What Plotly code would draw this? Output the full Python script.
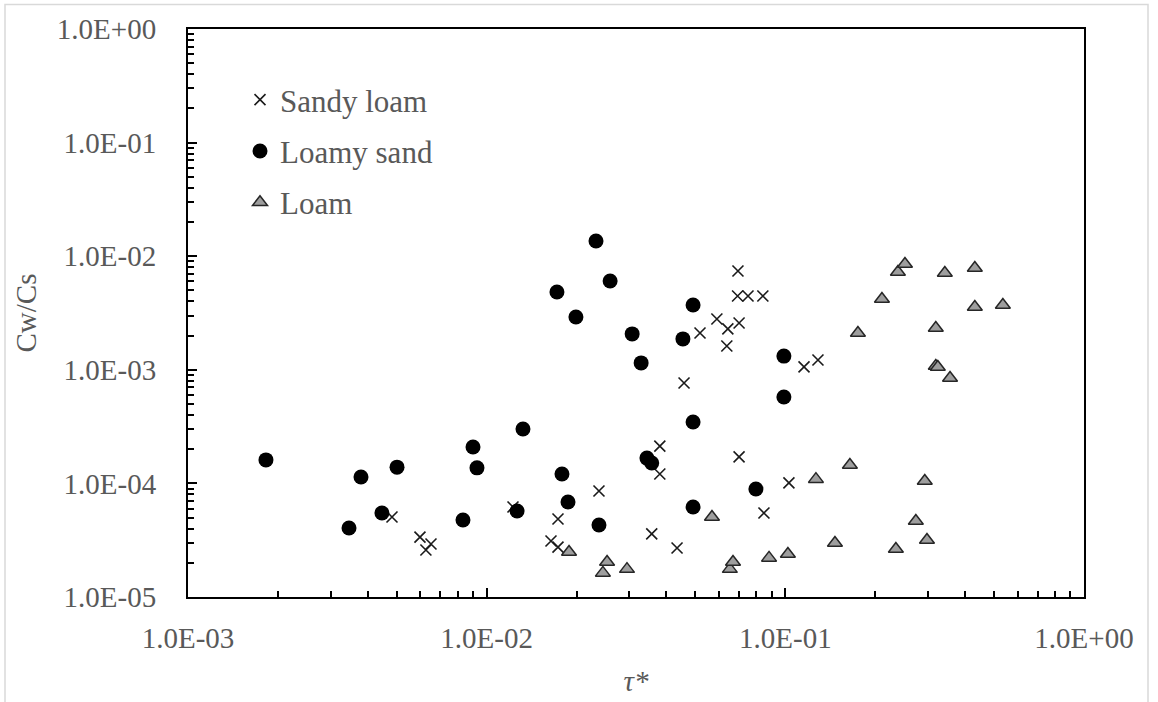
import plotly.graph_objects as go

# ---- data ----
sandy_x = [0.00482, 0.00598, 0.00626, 0.00651, 0.01225, 0.01642, 0.01733, 0.01733,
           0.02377, 0.0357, 0.038, 0.038, 0.0434, 0.0458, 0.0518, 0.059, 0.0637,
           0.0642, 0.0692, 0.0694, 0.070, 0.070, 0.075, 0.0841, 0.0848, 0.1028,
           0.1155, 0.1286]
sandy_y = [5.06e-5, 3.37e-5, 2.59e-5, 2.93e-5, 6.2e-5, 3.11e-5, 4.86e-5, 2.75e-5,
           8.57e-5, 3.59e-5, 2.13e-4, 1.21e-4, 2.7e-5, 7.65e-4, 2.11e-3, 2.8e-3,
           1.62e-3, 2.29e-3, 4.46e-3, 7.41e-3, 2.58e-3, 1.71e-4, 4.46e-3, 4.46e-3,
           5.49e-5, 1.01e-4, 1.06e-3, 1.22e-3]

loamy_x = [0.001824, 0.00346, 0.003795, 0.00446, 0.00501, 0.00833, 0.009, 0.00928,
           0.01264, 0.01323, 0.01719, 0.01787, 0.01872, 0.0199, 0.02323, 0.02377,
           0.0259, 0.0307, 0.0329, 0.0344, 0.0357, 0.0454, 0.0491, 0.0491, 0.0491,
           0.0797, 0.0989, 0.0989]
loamy_y = [1.61e-4, 4.05e-5, 1.14e-4, 5.49e-5, 1.39e-4, 4.76e-5, 2.09e-4, 1.37e-4,
           5.71e-5, 3.01e-4, 4.84e-3, 1.21e-4, 6.86e-5, 2.92e-3, 1.36e-2, 4.3e-5,
           6.05e-3, 2.07e-3, 1.15e-3, 1.67e-4, 1.51e-4, 1.87e-3, 3.72e-3, 3.47e-4,
           6.2e-5, 8.93e-5, 1.32e-3, 5.76e-4]

loam_x = [0.01887, 0.0245, 0.0253, 0.0295, 0.0568, 0.0652, 0.0668, 0.0882, 0.102,
          0.1266, 0.1466, 0.1645, 0.175, 0.2106, 0.2345, 0.2382, 0.2515, 0.2735,
          0.293, 0.298, 0.319, 0.319, 0.324, 0.342, 0.356, 0.431, 0.431, 0.535]
loam_y = [2.49e-5, 1.63e-5, 2.03e-5, 1.76e-5, 5.06e-5, 1.76e-5, 2.03e-5, 2.21e-5,
          2.39e-5, 1.09e-4, 2.99e-5, 1.45e-4, 2.11e-3, 4.2e-3, 2.65e-5, 7.26e-3,
          8.54e-3, 4.67e-5, 1.05e-4, 3.18e-5, 2.33e-3, 1.08e-3, 1.06e-3, 7.11e-3,
          8.47e-4, 7.87e-3, 3.57e-3, 3.72e-3]

x_tickvals = [1e-3, 1e-2, 1e-1, 1e0]
x_ticktext = ["1.0E-03", "1.0E-02", "1.0E-01", "1.0E+00"]
y_tickvals = [1e-5, 1e-4, 1e-3, 1e-2, 1e-1, 1e0]
y_ticktext = ["1.0E-05", "1.0E-04", "1.0E-03", "1.0E-02", "1.0E-01", "1.0E+00"]

FONT = "Liberation Serif, Times New Roman, serif"
GRAY = "#595959"

W, H = 1158, 702
L, R, T, B = 188, 74, 29, 105
PW, PH = W - L - R, H - T - B

fig = go.Figure()
fig.add_trace(go.Scatter(
    x=sandy_x, y=sandy_y, mode="markers", name="Sandy loam", legendgroup="a",
    marker=dict(symbol="x-thin", size=11, line=dict(color="#1a1a1a", width=1.6))))
fig.add_trace(go.Scatter(
    x=loamy_x, y=loamy_y, mode="markers", name="Loamy sand", legendgroup="b",
    marker=dict(symbol="circle", size=15, color="black", line=dict(width=0))))
fig.add_trace(go.Scatter(
    x=loam_x, y=loam_y, mode="markers", name="Loam", legendgroup="c",
    marker=dict(symbol="triangle-up", size=13, color="#9e9e9e",
                line=dict(color="#262626", width=1.5))))

def minor_vals(lo, hi):
    vals = []
    for e in range(lo, hi):
        for m in range(2, 10):
            vals.append(m * 10.0 ** e)
    return vals

axis_common = dict(
    type="log", showgrid=False, zeroline=False,
    showline=True, linecolor="black", linewidth=2, mirror=True,
    ticks="inside", ticklen=9, tickwidth=1.5, tickcolor="black",
    tickfont=dict(family=FONT, size=29, color=GRAY),
    tickmode="array",
)

fig.update_xaxes(
    **axis_common, range=[-3, 0],
    tickvals=x_tickvals, ticktext=x_ticktext, ticklabelstandoff=14,
    minor=dict(tickmode="array", tickvals=minor_vals(-3, 0), ticks="inside",
               ticklen=6, tickwidth=1.5, tickcolor="black", showgrid=False),
    title=dict(text="<i>τ*</i>", font=dict(family=FONT, size=29, color=GRAY), standoff=18),
)
fig.update_yaxes(
    **axis_common, range=[-5, 0],
    tickvals=y_tickvals, ticktext=y_ticktext, ticklabelstandoff=24,
    minor=dict(tickmode="array", tickvals=minor_vals(-5, 0), ticks="inside",
               ticklen=6, tickwidth=1.5, tickcolor="black", showgrid=False),
    title=dict(text="Cw/Cs", font=dict(family=FONT, size=29, color=GRAY), standoff=12),
)

# light outer frame of the picture
fig.add_shape(type="rect", xref="paper", yref="paper",
              x0=(5 - L) / PW, x1=(1148 - L) / PW,
              y0=-(H + 20 - T - PH) / PH, y1=1 + (T - 4.5) / PH,
              line=dict(color="#d9d9d9", width=1.5), fillcolor="rgba(0,0,0,0)", layer="below")

fig.update_layout(
    width=W, height=H,
    margin=dict(l=L, r=R, t=T, b=B, autoexpand=False),
    paper_bgcolor="white", plot_bgcolor="white",
    font=dict(family=FONT, color=GRAY),
    legend=dict(x=(240 - L) / PW, y=1 - (73 - T) / PH, xanchor="left", yanchor="top",
                bgcolor="rgba(0,0,0,0)", font=dict(family=FONT, size=31, color=GRAY),
                tracegroupgap=8, itemsizing="trace"),
    showlegend=True,
)

fig.write_html("out.html")
